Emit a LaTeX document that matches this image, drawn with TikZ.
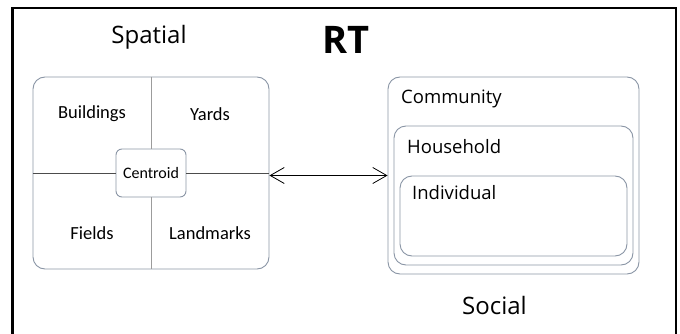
\documentclass[tikz,border=0pt]{standalone}
\usepackage{fontspec}
\setmainfont{Open Sans}
\newfontfamily\calib{Carlito}
\usetikzlibrary{arrows.meta,positioning}
\definecolor{boxgray}{HTML}{8A95A5}
\definecolor{linegray}{HTML}{9C9C9C}

\begin{document}
\begin{tikzpicture}[x=1pt,y=-1pt,
    roundbox/.style={draw=boxgray, rounded corners=12pt, line width=0.9pt},
    quad/.style={font=\calib\fontsize{18.5}{20}\selectfont},
    layer/.style={font=\fontsize{18.5}{20}\selectfont, anchor=west, inner sep=0pt},
    title/.style={font=\fontsize{24}{26}\selectfont},
    barb/.tip={Straight Barb[length=14pt,width=16pt]}]
    \useasboundingbox (0,0) rectangle (680,334);
    \clip (0,0) rectangle (680,334);
    \draw[line width=2.2pt] (12.5,340) -- (12.5,8) -- (676,8) -- (676,340);
    % spatial side
    \node[title] (spatial) at (149,37) {Spatial};
    \node[font=\bfseries\fontsize{38}{40}\selectfont] (rt) at (346,40) {RT};
    \node[roundbox, minimum width=236pt, minimum height=192pt] (space) at (151,173) {};
    \node[roundbox, rounded corners=6pt, minimum width=70pt, minimum height=48pt,
        font=\calib\fontsize{16}{18}\selectfont] (centroid) at (151,173) {Centroid};
    \draw[linegray] (space.north) -- (centroid.north);
    \draw[linegray] (centroid.south) -- (space.south);
    \draw[black!70] (space.west) -- (centroid.west);
    \draw[black!70] (centroid.east) -- (space.east);
    \node[quad] (buildings) at (92,114) {Buildings};
    \node[quad] (yards) at (210,114) {Yards};
    \node[quad] (fields) at (92,233) {Fields};
    \node[quad] (landmarks) at (210,233) {Landmarks};
    % social side
    \node[roundbox, minimum width=251pt, minimum height=197pt] (comm) at (513.5,175.5) {};
    \node[roundbox, minimum width=239pt, minimum height=139pt] (house) at (513.5,195.5) {};
    \node[roundbox, minimum width=227pt, minimum height=80pt] (indiv) at (513.5,216) {};
    \node[layer] (commlbl) at (401,99) {Community};
    \node[layer] (houselbl) at (407,147) {Household};
    \node[layer] (indivlbl) at (412,193) {Individual};
    \node[title] (social) at (494.5,305) {Social};
    % link
    \draw[barb-barb, line width=0.8pt] (space.east |- comm.west) -- (comm.west);
\end{tikzpicture}
\end{document}
